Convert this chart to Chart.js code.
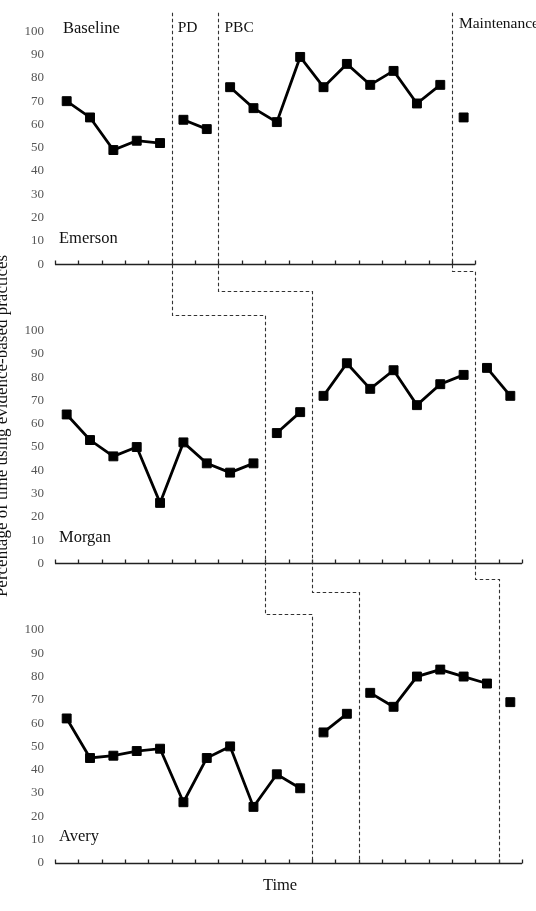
<!DOCTYPE html>
<html><head><meta charset="utf-8">
<script src="https://cdn.jsdelivr.net/npm/chart.js@4/dist/chart.umd.min.js"></script>
<style>html,body{margin:0;padding:0;background:#fff}canvas{display:block}</style>
</head><body>
<canvas id="c" width="536" height="911"></canvas>
<script>
// ---- data ----
const sessions = ['1','2','3','4','5','6','7','8','9','10','11','12','13','14','15','16','17','18','19','20'];
const yTicks = [0, 10, 20, 30, 40, 50, 60, 70, 80, 90, 100];
const phaseNames = ['Baseline', 'PD', 'PBC', 'Maintenance'];
const participants = ['Emerson', 'Morgan', 'Avery'];

const emersonValues = [70, 63, 49, 53, 52, 62, 58, 76, 67, 61, 89, 76, 86, 77, 83, 69, 77, 63];
const emersonPhaseLengths = [5, 2, 10, 1];
const morganValues = [64, 53, 46, 50, 26, 52, 43, 39, 43, 56, 65, 72, 86, 75, 83, 68, 77, 81, 84, 72];
const morganPhaseLengths = [9, 2, 7, 2];
const averyValues = [62, 45, 46, 48, 49, 26, 45, 50, 24, 38, 32, 56, 64, 73, 67, 80, 83, 80, 77, 69];
const averyPhaseLengths = [11, 2, 6, 1];

const yTitle = 'Percentage of time using evidence-based practices';
const xTitle = 'Time';

// ---- helpers ----
const SERIF = '"Liberation Serif", "Times New Roman", serif';
function cumBounds(lengths) { const b = [0]; lengths.forEach(l => b.push(b[b.length - 1] + l)); return b; }
function phaseOf(lengths, idx) { const b = cumBounds(lengths); for (let k = 0; k < lengths.length; k++) { if (idx < b[k + 1]) return k; } return lengths.length - 1; }

const panels = [
  { id: 'yEmerson', name: participants[0], values: emersonValues, phases: emersonPhaseLengths, weight: 3 },
  { id: 'yMorgan',  name: participants[1], values: morganValues,  phases: morganPhaseLengths,  weight: 2 },
  { id: 'yAvery',   name: participants[2], values: averyValues,   phases: averyPhaseLengths,   weight: 1 }
];

const datasets = panels.map(p => ({
  label: p.name,
  data: p.values,
  xAxisID: 'x',
  yAxisID: p.id,
  borderColor: '#000',
  borderWidth: 2.8,
  pointStyle: 'rect',
  pointRadius: 6.3,
  pointHoverRadius: 6.3,
  pointBackgroundColor: '#000',
  pointBorderColor: '#000',
  pointBorderWidth: 1,
  fill: false,
  tension: 0,
  segment: {
    borderColor: ctx => phaseOf(p.phases, ctx.p0DataIndex) === phaseOf(p.phases, ctx.p1DataIndex) ? '#000' : 'rgba(0,0,0,0)'
  }
}));

const yScale = (w) => ({
  type: 'linear',
  position: 'left',
  stack: 'panels',
  stackWeight: 1,
  weight: w,
  min: -16,
  max: 112.6,
  afterBuildTicks: ax => { ax.ticks = yTicks.map(v => ({ value: v })); },
  afterFit: ax => { ax.width = 55; ax.paddingTop = 0; ax.paddingBottom = 0; },
  grid: { display: false, drawTicks: false },
  border: { display: false },
  ticks: { autoSkip: false, padding: 11, color: '#555', font: { family: SERIF, size: 13 } }
});

const scales = {
  x: { type: 'category', labels: sessions, offset: true, display: false }
};
panels.forEach(p => { scales[p.id] = yScale(p.weight); });

// connector levels of the staircase phase lines (value on given panel scale)
const joins = [
  [{ s: 'yMorgan', v: 106.7 }, { s: 'yAvery', v: 106.7 }],
  [{ s: 'yMorgan', v: 117 },   { s: 'yAvery', v: 116.5 }],
  [{ s: 'yEmerson', v: -3 },   { s: 'yMorgan', v: -6.5 }]
];
const phaseLabelOffsets = [8, 6, 6, 7];

const annot = {
  id: 'annot',
  afterDraw(chart) {
    const ctx = chart.ctx;
    const x = chart.scales.x;
    const slot = x.getPixelForValue(1) - x.getPixelForValue(0);
    const xb = i => x.getPixelForValue(i) - slot / 2;
    ctx.save();

    // panel x-axes, ticks, participant names
    panels.forEach(p => {
      const ys = chart.scales[p.id];
      const y0 = Math.round(ys.getPixelForValue(0)) + 0.5;
      const n = p.values.length;
      ctx.setLineDash([]);
      ctx.strokeStyle = '#222';
      ctx.lineWidth = 1.3;
      ctx.beginPath();
      ctx.moveTo(xb(0), y0); ctx.lineTo(xb(n), y0);
      for (let i = 0; i <= n; i++) { const tx = Math.round(xb(i)) + 0.5; ctx.moveTo(tx, y0); ctx.lineTo(tx, y0 - 4); }
      ctx.stroke();
      ctx.fillStyle = '#111';
      ctx.font = '16.5px ' + SERIF;
      ctx.textAlign = 'left';
      ctx.textBaseline = 'middle';
      ctx.fillText(p.name, xb(0) + 4, ys.getPixelForValue(11));
    });

    // staircase phase-change lines
    ctx.strokeStyle = '#333';
    ctx.lineWidth = 1.1;
    ctx.setLineDash([3.5, 2.5]);
    for (let k = 0; k < 3; k++) {
      const bx = panels.map(p => Math.round(xb(cumBounds(p.phases)[k + 1])) + 0.5);
      ctx.beginPath();
      ctx.moveTo(bx[0], chart.scales.yEmerson.getPixelForValue(108));
      for (let j = 0; j < 2; j++) {
        const yj = Math.round(chart.scales[joins[k][j].s].getPixelForValue(joins[k][j].v)) + 0.5;
        ctx.lineTo(bx[j], yj);
        ctx.lineTo(bx[j + 1], yj);
      }
      ctx.lineTo(bx[2], chart.scales.yAvery.getPixelForValue(0));
      ctx.stroke();
    }
    ctx.setLineDash([]);

    // phase labels (top panel)
    const eb = cumBounds(emersonPhaseLengths);
    ctx.fillStyle = '#111';
    ctx.textAlign = 'left';
    ctx.textBaseline = 'middle';
    phaseNames.forEach((nm, k) => {
      ctx.font = (k === 0 ? '16.5px ' : '15.5px ') + SERIF;
      const yv = k === 3 ? 103 : 101.3;
      ctx.fillText(nm, xb(eb[k]) + phaseLabelOffsets[k], chart.scales.yEmerson.getPixelForValue(yv));
    });

    // axis titles
    ctx.font = '17px ' + SERIF;
    ctx.textAlign = 'center';
    ctx.textBaseline = 'alphabetic';
    ctx.save();
    ctx.translate(7, 426);
    ctx.rotate(-Math.PI / 2);
    ctx.fillText(yTitle, 0, 0);
    ctx.restore();
    ctx.font = '16.5px ' + SERIF;
    ctx.textBaseline = 'middle';
    ctx.fillText(xTitle, 280, 886);

    ctx.restore();
  }
};

new Chart(document.getElementById('c'), {
  type: 'line',
  data: { labels: sessions, datasets },
  options: {
    responsive: false,
    devicePixelRatio: 1,
    animation: false,
    layout: { autoPadding: false, padding: { top: 2, bottom: 11, left: 0, right: 14 } },
    plugins: { legend: { display: false }, tooltip: { enabled: false }, title: { display: false } },
    scales
  },
  plugins: [annot]
});
</script>
</body></html>
